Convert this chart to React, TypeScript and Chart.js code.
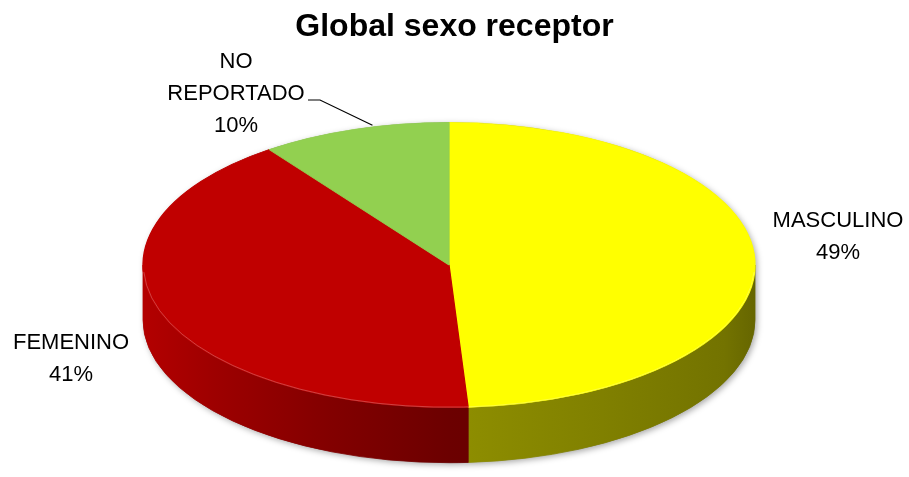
import React, { useEffect, useRef } from "react";
import { Chart, registerables } from "chart.js";

Chart.register(...registerables);

// ---- data ----
const CATEGORIES = ["MASCULINO", "FEMENINO", "NO REPORTADO"];
const PERCENTS = [49, 41, 10];
const TITLE = "Global sexo receptor";

// ---- style ----
const TOP_COLORS = ["#FFFF00", "#C00000", "#92D050"];
const DEPTH = 55;
const LABEL_FONT = "22px 'Liberation Sans', Arial, sans-serif";
const TITLE_FONT = "bold 32px 'Liberation Sans', Arial, sans-serif";
const LINE_H = 32;
// first-line baseline anchor (centre x) for each label
const LABEL_POS = [
  { x: 838, y: 227 },
  { x: 71, y: 349 },
  { x: 236, y: 68 },
];
const LEADER = [null, null, { x: 308, y: 100, elbow: 320 }];

function hexToRgb(h: string) {
  const n = parseInt(h.slice(1), 16);
  return [(n >> 16) & 255, (n >> 8) & 255, n & 255];
}
function shade(h: string, f: number) {
  const [r, g, b] = hexToRgb(h);
  return `rgb(${Math.round(r * f)},${Math.round(g * f)},${Math.round(b * f)})`;
}
const SIDE_STOPS: [number, number][] = [
  [0, 0.93],
  [0.12, 0.82],
  [0.3, 0.68],
  [0.5, 0.56],
  [0.75, 0.5],
  [0.95, 0.45],
  [1, 0.4],
];

function wrap(ctx: CanvasRenderingContext2D, text: string, maxW: number) {
  const words = text.split(" ");
  const lines: string[] = [];
  let cur = "";
  for (const w of words) {
    const t = cur ? cur + " " + w : w;
    if (cur && ctx.measureText(t).width > maxW) {
      lines.push(cur);
      cur = w;
    } else cur = t;
  }
  if (cur) lines.push(cur);
  return lines;
}

function geom(chart: any) {
  const meta = chart.getDatasetMeta(0);
  const a0 = meta.data[0] as any;
  const ca = chart.chartArea;
  return { meta, cx: a0.x, cy: a0.y, rx: ca.width / 2, ry: a0.outerRadius };
}

const pie3d = {
  id: "pie3d",
  beforeDatasetsDraw(chart: any) {
    const ctx: CanvasRenderingContext2D = chart.ctx;
    const { meta, cx, cy, rx, ry } = geom(chart);

    // silhouette with soft shadow
    ctx.save();
    ctx.shadowColor = "rgba(0,0,0,0.35)";
    ctx.shadowBlur = 6;
    ctx.shadowOffsetX = 2;
    ctx.shadowOffsetY = 2;
    ctx.fillStyle = "#888";
    ctx.beginPath();
    ctx.ellipse(cx, cy, rx, ry, 0, Math.PI, 0, false);
    ctx.ellipse(cx, cy + DEPTH, rx, ry, 0, 0, Math.PI, false);
    ctx.closePath();
    ctx.fill();
    ctx.restore();

    // side walls
    const windows = [
      [-2 * Math.PI, -Math.PI],
      [0, Math.PI],
      [2 * Math.PI, 3 * Math.PI],
    ];
    meta.data.forEach((arc: any, i: number) => {
      const s = arc.startAngle;
      const e = arc.endAngle;
      for (const [w0, w1] of windows) {
        const a1 = Math.max(s, w0);
        const a2 = Math.min(e, w1);
        if (a2 - a1 <= 1e-6) continue;
        const grad = ctx.createLinearGradient(cx - rx, 0, cx + rx, 0);
        for (const [p, f] of SIDE_STOPS) grad.addColorStop(p, shade(TOP_COLORS[i], f));
        ctx.save();
        ctx.fillStyle = grad;
        ctx.beginPath();
        ctx.ellipse(cx, cy, rx, ry, 0, a1, a2, false);
        ctx.ellipse(cx, cy + DEPTH, rx, ry, 0, a2, a1, true);
        ctx.closePath();
        ctx.fill();
        ctx.strokeStyle = grad;
        ctx.lineWidth = 0.8;
        ctx.stroke();
        ctx.restore();
      }
    });

    // squash the circular pie into the top ellipse
    ctx.save();
    ctx.translate(cx, cy);
    ctx.scale(rx / ry, 1);
    ctx.translate(-cx, -cy);
  },
  afterDatasetsDraw(chart: any) {
    const ctx: CanvasRenderingContext2D = chart.ctx;
    ctx.restore();
    const { cx, cy, rx, ry } = geom(chart);
    // subtle highlight on the front rim
    ctx.save();
    ctx.strokeStyle = "rgba(255,255,255,0.25)";
    ctx.lineWidth = 1;
    ctx.beginPath();
    ctx.ellipse(cx, cy, rx - 0.5, ry - 0.5, 0, 0.05, Math.PI - 0.05, false);
    ctx.stroke();
    ctx.restore();
  },
  afterDraw(chart: any) {
    const ctx: CanvasRenderingContext2D = chart.ctx;
    const { meta, cx, cy, rx, ry } = geom(chart);
    ctx.save();
    ctx.fillStyle = "#000";
    ctx.textAlign = "center";
    ctx.textBaseline = "alphabetic";
    ctx.font = TITLE_FONT;
    ctx.fillText(TITLE, chart.width / 2, 36);

    ctx.font = LABEL_FONT;
    const total = PERCENTS.reduce((a, b) => a + b, 0);
    CATEGORIES.forEach((cat, i) => {
      const lines = wrap(ctx, cat, 150);
      lines.push(Math.round((PERCENTS[i] / total) * 100) + "%");
      const p = LABEL_POS[i];
      lines.forEach((ln, j) => ctx.fillText(ln, p.x, p.y + j * LINE_H));
      const ld = LEADER[i];
      if (ld) {
        const arc = meta.data[i] as any;
        const mid = (arc.startAngle + arc.endAngle) / 2;
        const ex = cx + rx * Math.cos(mid);
        const ey = cy + ry * Math.sin(mid);
        ctx.strokeStyle = "#000";
        ctx.lineWidth = 1.2;
        ctx.beginPath();
        ctx.moveTo(ld.x, ld.y);
        ctx.lineTo(ld.elbow, ld.y);
        ctx.lineTo(ex + 18, ey - 4);
        ctx.stroke();
      }
    });
    ctx.restore();
  },
};

export default function App() {
  const ref = useRef<HTMLCanvasElement>(null);
  useEffect(() => {
    const chart = new Chart(ref.current!, {
      type: "pie",
      data: {
        labels: CATEGORIES,
        datasets: [
          {
            data: PERCENTS,
            backgroundColor: TOP_COLORS,
            borderColor: TOP_COLORS,
            borderWidth: 0.6,
          },
        ],
      },
      options: {
        responsive: false,
        animation: false,
        layout: { padding: { left: 143, right: 154, top: 122, bottom: 69 } },
        plugins: {
          legend: { display: false },
          tooltip: { enabled: false },
          title: { display: false },
        },
      },
      plugins: [pie3d],
    });
    return () => chart.destroy();
  }, []);
  return (
    <div style={{ position: "fixed", left: 0, top: 0, width: 909, height: 477, background: "#fff" }}>
      <canvas ref={ref} width={909} height={477} style={{ display: "block" }} />
    </div>
  );
}
